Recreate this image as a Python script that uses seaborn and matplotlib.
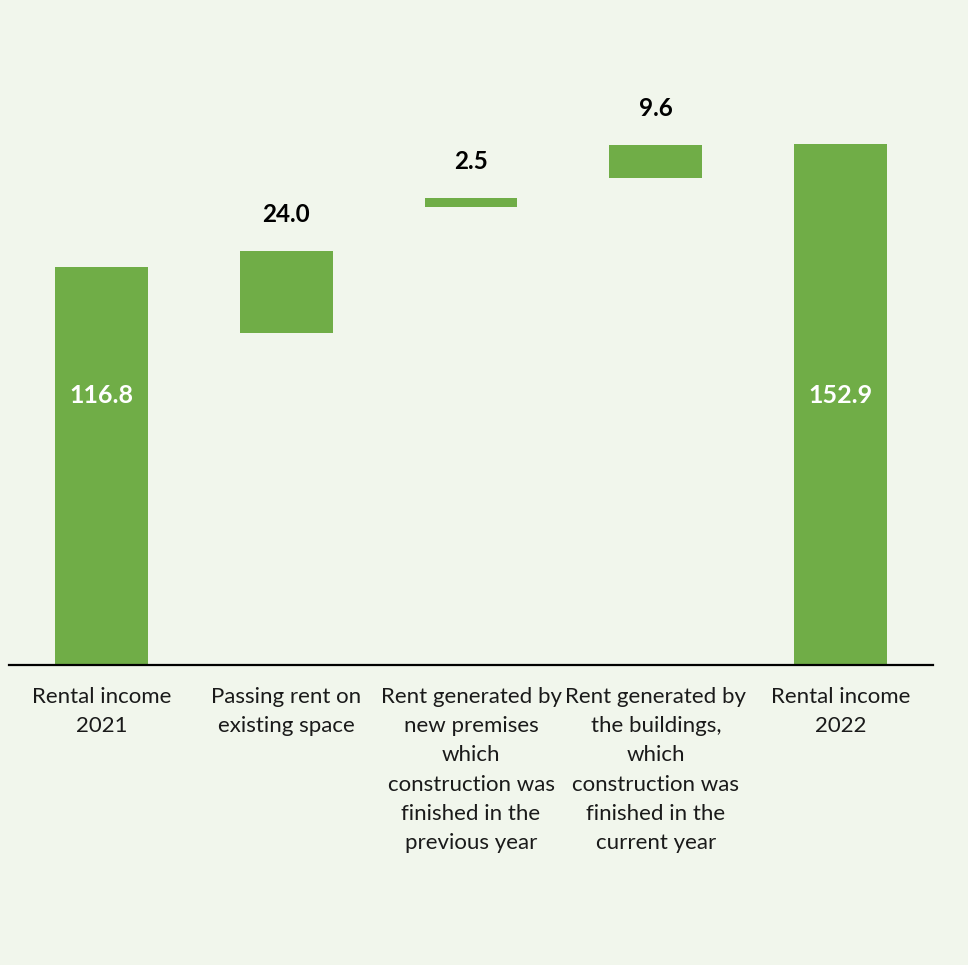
import matplotlib
matplotlib.use("Agg")
import matplotlib.pyplot as plt
import seaborn as sns
import pandas as pd

# Rental income bridge, 2021 -> 2022
categories = [
    "Rental income\n2021",
    "Passing rent on\nexisting space",
    "Rent generated by\nnew premises\nwhich\nconstruction was\nfinished in the\nprevious year",
    "Rent generated by\nthe buildings,\nwhich\nconstruction was\nfinished in the\ncurrent year",
    "Rental income\n2022",
]
values = [116.8, 24.0, 2.5, 9.6, 152.9]
bar_bottoms = [0.0, 97.5, 134.5, 143.0, 0.0]
is_total = [True, False, False, False, True]

BG = "#F1F6EC"
GREEN = "#70AD47"

sns.set_theme(style="white")
plt.rcParams["font.family"] = ["Lato", "DejaVu Sans"]

df = pd.DataFrame({"category": categories, "value": values})

fig = plt.figure(figsize=(9.68, 9.65), dpi=100, facecolor=BG)
ax = fig.add_axes([9 / 968, (965 - 665) / 965, 924 / 968, 180 * 3.408 / 965])
ax.set_facecolor(BG)

sns.barplot(data=df, x="category", y="value", color=GREEN, saturation=1,
            width=0.503, bottom=bar_bottoms, ax=ax, linewidth=0)

ax.set_ylim(0, 180)
ax.set_xlim(-0.5, len(categories) - 0.5)
ax.set_xlabel("")
ax.set_ylabel("")
ax.set_yticks([])
for side in ("left", "right", "top"):
    ax.spines[side].set_visible(False)
ax.spines["bottom"].set_color("black")
ax.spines["bottom"].set_linewidth(1.6)
ax.tick_params(axis="x", length=0, pad=15.5, labelsize=16, colors="#1a1a1a")
for lab in ax.get_xticklabels():
    lab.set_linespacing(1.585)
    lab.set_multialignment("center")

# value labels: totals inside the bar, changes above the bar
for i, (v, b, tot) in enumerate(zip(values, bar_bottoms, is_total)):
    if tot:
        ax.text(i, 79, f"{v:.1f}", ha="center", va="center", color="white",
                fontsize=18, fontweight="bold")
    else:
        ax.annotate(f"{v:.1f}", xy=(i, b + v), xytext=(0, 26),
                    textcoords="offset points", ha="center", va="center",
                    color="black", fontsize=17.5, fontweight="bold")

fig.savefig("out.png", dpi=100, facecolor=BG)
